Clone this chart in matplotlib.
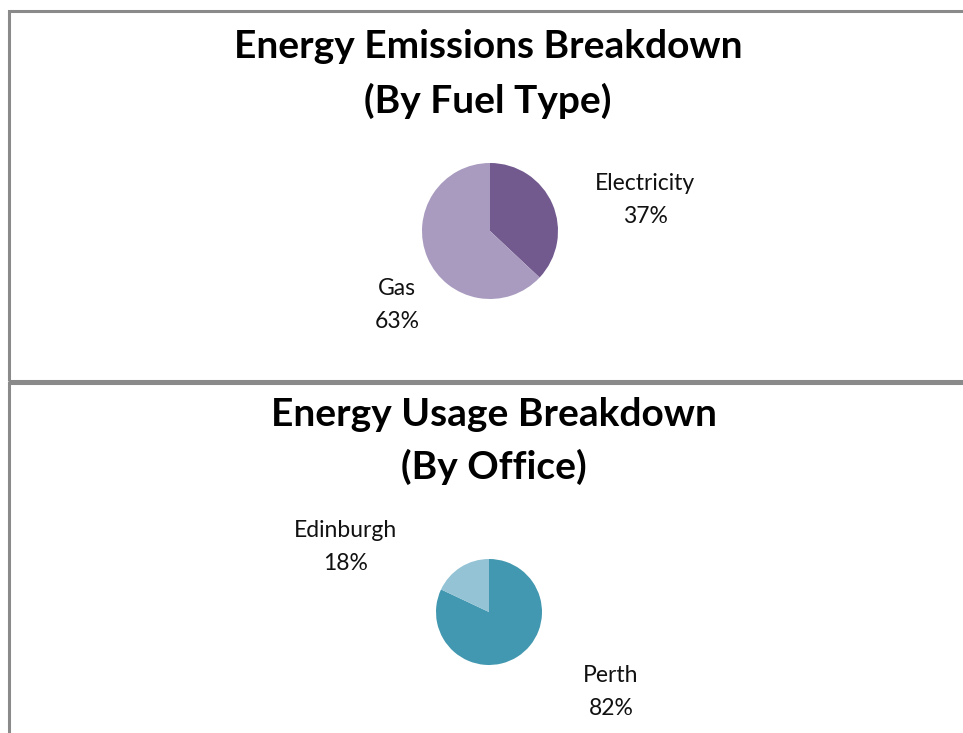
import matplotlib
matplotlib.use("Agg")
import matplotlib.pyplot as plt
from matplotlib.patches import Rectangle

plt.rcParams['font.family'] = ['Lato', 'DejaVu Sans']

# data
fuel_labels = ['Electricity', 'Gas']
fuel_values = [37, 63]
fuel_colors = ['#725a8f', '#a99bbf']

office_labels = ['Perth', 'Edinburgh']
office_values = [82, 18]
office_colors = ['#4298b0', '#93c3d5']

W, H = 963, 733
fig = plt.figure(figsize=(W / 100, H / 100), dpi=100)


def fx(x):
    return x / W


def fy(y):
    return 1 - y / H


# panel borders
for top, bottom in [(11, 381), (383, 760)]:
    fig.patches.append(Rectangle((fx(9), fy(bottom)), fx(1000) - fx(9), fy(top) - fy(bottom),
                                 transform=fig.transFigure, fill=False,
                                 edgecolor='#8a8a8a', linewidth=2.2, clip_on=False))


def pie_panel(cx, cy, r, values, colors, labels, label_pos, title, title_x, title_y):
    hw, hh = 300, 160
    ax = fig.add_axes([fx(cx - hw), fy(cy + hh), fx(2 * hw), (2 * hh) / H])
    ax.pie(values, colors=colors, startangle=90, counterclock=False, radius=1,
           wedgeprops=dict(linewidth=0))
    ax.set_xlim(-hw / r, hw / r)
    ax.set_ylim(-hh / r, hh / r)
    ax.set_aspect('equal')
    ax.axis('off')
    total = sum(values)
    for lab, v, (dx, dy) in zip(labels, values, label_pos):
        ax.text(dx / r, -dy / r, f'{lab}\n{round(100 * v / total)}%', ha='center', va='center',
                fontsize=16.5, linespacing=1.75, color='#111111')
    for t, ty in zip(title, title_y):
        fig.text(fx(title_x), fy(ty), t, ha='center', va='center', fontsize=28,
                 fontweight='bold', color='black')


pie_panel(490, 231, 68, fuel_values, fuel_colors, fuel_labels,
          [(155, -31), (-93, 74)],
          ['Energy Emissions Breakdown', '(By Fuel Type)'], 488, [47, 101])

pie_panel(489, 612, 53, office_values, office_colors, office_labels,
          [(122, 80), (-143, -65)],
          ['Energy Usage Breakdown', '(By Office)'], 494, [415, 467])

fig.savefig('out.png', dpi=100)
